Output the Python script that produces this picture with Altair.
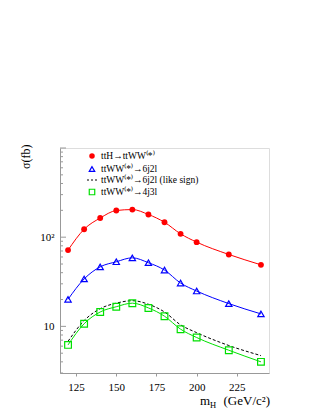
import altair as alt
import pandas as pd

# ---- data ----
mass = [120, 130, 140, 150, 160, 170, 180, 190, 200, 220, 240]
tth_ww = [71.6, 122.8, 164, 199, 204, 179.6, 147, 109, 88, 64, 49]
ww_6j2l = [20.1, 34, 46.5, 53, 58.7, 51.7, 42.8, 30.6, 24.9, 18.0, 13.8]
ww_6j2l_ls = [6.8, 11.6, 15.8, 18.2, 19.4, 17.7, 14.5, 10.4, 8.5, 6.1, 4.7]
ww_4j3l = [6.2, 10.7, 14.5, 16.6, 18.2, 16.1, 13.0, 9.3, 7.5, 5.4, 4.0]

legend_labels = [
    "ttH\u2192ttWW\u207d*\u207e",
    "ttWW\u207d*\u207e\u21926j2l",
    "ttWW\u207d*\u207e\u21926j2l (like sign)",
    "ttWW\u207d*\u207e\u21924j3l",
]
x_ticks = [125, 150, 175, 200, 225]
y_major = [10, 100, 1000]
y_minor = [3, 4, 5, 6, 7, 8, 9, 20, 30, 40, 50, 60, 70, 80, 90,
           200, 300, 400, 500, 600, 700, 800, 900]

FONT = "Liberation Serif"
GRAY = "#999999"

xscale = alt.Scale(domain=[115, 245], nice=False, zero=False)
yscale = alt.Scale(type="log", domain=[3, 1000], nice=False)

x_axis = alt.Axis(values=x_ticks, tickSize=3, tickColor=GRAY, domainColor=GRAY,
                  labelFont=FONT, labelFontSize=11, labelColor="black",
                  labelPadding=5, grid=False, title=None, format="d")
y_axis = alt.Axis(values=[10, 100], ticks=False, domainColor=GRAY,
                  labelExpr="datum.value == 100 ? '10\u00b2' : (datum.value == 10 ? '10' : '')",
                  labelFont=FONT, labelFontSize=11, labelColor="black",
                  labelPadding=6, grid=False,
                  title="\u03c3(fb)", titleFont=FONT, titleFontSize=12,
                  titleFontWeight="normal", titleAngle=270, titleAlign="right",
                  titleBaseline="middle", titleX=-35, titleY=-4, titleColor="black")


def X(field):
    return alt.X(field, scale=xscale, axis=x_axis)


def Y(field):
    return alt.Y(field, scale=yscale, axis=y_axis)


def series(vals, color, dash=None, shape=None, filled=False, size=30):
    df = pd.DataFrame({"m": mass, "v": vals})
    enc = dict(x=X("m:Q"), y=Y("v:Q"))
    line_kw = dict(interpolate="monotone", color=color, strokeWidth=1)
    if dash:
        line_kw["strokeDash"] = dash
    layers = [alt.Chart(df).mark_line(**line_kw).encode(**enc)]
    if shape:
        layers.append(alt.Chart(df).mark_point(shape=shape, filled=filled, color=color,
                                               size=size, strokeWidth=1.2, opacity=1)
                      .encode(**enc))
    return layers


layers = []
layers += series(tth_ww, "#ff0000", shape="circle", filled=True, size=34)
layers += series(ww_6j2l, "#0000ff", shape="triangle-up", size=40)
layers += series(ww_6j2l_ls, "#000000", dash=[3, 2])
layers += series(ww_4j3l, "#00e000", shape="square", size=45)

# inside ticks on the y axis
layers.append(alt.Chart(pd.DataFrame({"t": y_minor})).mark_rule(color=GRAY, strokeWidth=1).encode(
    y=Y("t:Q"), x=alt.value(0), x2=alt.value(3)))
layers.append(alt.Chart(pd.DataFrame({"t": y_major})).mark_rule(color=GRAY, strokeWidth=1).encode(
    y=Y("t:Q"), x=alt.value(0), x2=alt.value(6)))

# legend
one = alt.Data(values=[{"a": 1}])
leg_y = [8, 21, 32, 44]
layers.append(alt.Chart(one).mark_point(shape="circle", filled=True, color="#ff0000",
                                        size=30, opacity=1)
              .encode(x=alt.value(32), y=alt.value(leg_y[0])))
layers.append(alt.Chart(one).mark_point(shape="triangle-up", color="#0000ff",
                                        size=30, strokeWidth=1.2, opacity=1)
              .encode(x=alt.value(32), y=alt.value(leg_y[1])))
layers.append(alt.Chart(one).mark_rule(color="black", strokeDash=[2, 2], strokeWidth=1)
              .encode(x=alt.value(27), x2=alt.value(38), y=alt.value(leg_y[2])))
layers.append(alt.Chart(one).mark_point(shape="square", color="#00e000",
                                        size=30, strokeWidth=1.2, opacity=1)
              .encode(x=alt.value(32), y=alt.value(leg_y[3])))
for lab, yy in zip(legend_labels, leg_y):
    layers.append(alt.Chart(one).mark_text(text=lab, font=FONT, fontSize=9.5, align="left",
                                           baseline="middle", color="black")
                  .encode(x=alt.value(41), y=alt.value(yy)))

# x title: m_H (GeV/c^2)
layers.append(alt.Chart(one).mark_text(text="m", font=FONT, fontSize=13, align="left",
                                       baseline="alphabetic", color="black")
              .encode(x=alt.value(140), y=alt.value(257)))
layers.append(alt.Chart(one).mark_text(text="H", font=FONT, fontSize=8.5, align="left",
                                       baseline="alphabetic", color="black")
              .encode(x=alt.value(150), y=alt.value(260)))
layers.append(alt.Chart(one).mark_text(text="(GeV/c\u00b2)", font=FONT, fontSize=13, align="right",
                                       baseline="alphabetic", color="black")
              .encode(x=alt.value(210), y=alt.value(257)))

chart = alt.layer(*layers).properties(
    width=209, height=225,
    autosize=alt.AutoSizeParams(type="none"),
    padding={"left": 52, "top": 140, "right": 46, "bottom": 42},
).configure_view(stroke=GRAY, strokeWidth=1).configure(background="white")

chart.save("out.html", embed_options={"renderer": "svg", "actions": False})
